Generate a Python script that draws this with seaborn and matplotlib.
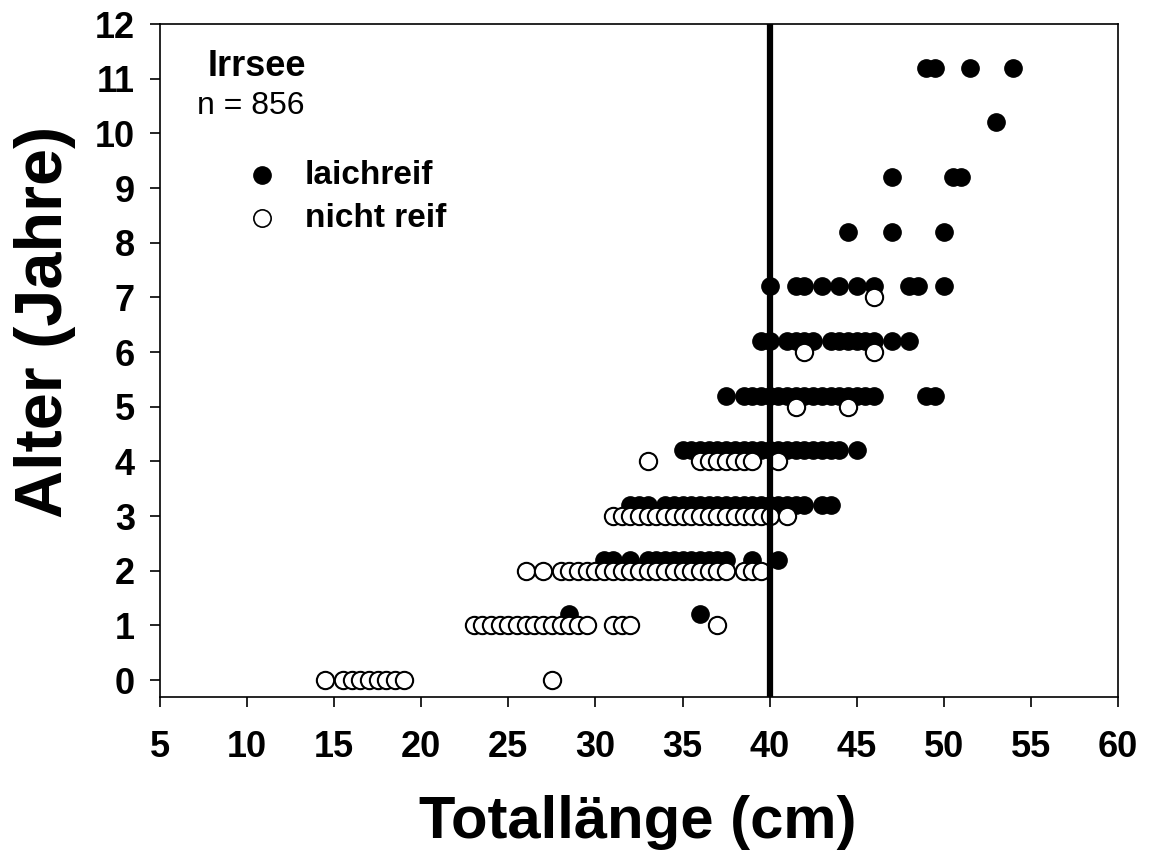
import numpy as np
import pandas as pd
import matplotlib
matplotlib.use("Agg")
import matplotlib.pyplot as plt
import seaborn as sns

# --- data ---
# immature (nicht reif): length (cm) per age
imm_len = {
    0: [14.5, 15.5, 16.0, 16.5, 17.0, 17.5, 18.0, 18.5, 19.0, 27.5],
    1: [23.0, 23.5, 24.0, 24.5, 25.0, 25.5, 26.0, 26.5, 27.0, 27.5, 28.0, 28.5,
        29.0, 29.5, 31.0, 31.5, 32.0, 37.0],
    2: [26.0, 27.0, 28.0, 28.5, 29.0, 29.5, 30.0, 30.5, 31.0, 31.5, 32.0, 32.5,
        33.0, 33.5, 34.0, 34.5, 35.0, 35.5, 36.0, 36.5, 37.0, 37.5, 38.5, 39.0, 39.5],
    3: [31.0, 31.5, 32.0, 32.5, 33.0, 33.5, 34.0, 34.5, 35.0, 35.5, 36.0, 36.5,
        37.0, 37.5, 38.0, 38.5, 39.0, 39.5, 40.0, 41.0],
    4: [33.0, 36.0, 36.5, 37.0, 37.5, 38.0, 38.5, 39.0, 40.5],
    5: [41.5, 44.5],
    6: [42.0, 46.0],
    7: [46.0],
}
# mature (laichreif): length (cm) per age
mat_len = {
    1: [28.5, 36.0],
    2: [30.5, 31.0, 32.0, 33.0, 33.5, 34.0, 34.5, 35.0, 35.5, 36.0, 36.5, 37.0,
        37.5, 39.0, 40.5],
    3: [32.0, 32.5, 33.0, 34.0, 34.5, 35.0, 35.5, 36.0, 36.5, 37.0, 37.5, 38.0,
        38.5, 39.0, 39.5, 40.0, 40.5, 41.0, 41.5, 42.0, 43.0, 43.5],
    4: [35.0, 35.5, 36.0, 36.5, 37.0, 37.5, 38.0, 38.5, 39.0, 39.5, 40.0, 40.5,
        41.0, 41.5, 42.0, 42.5, 43.0, 43.5, 44.0, 45.0],
    5: [37.5, 38.5, 39.0, 39.5, 40.0, 40.5, 41.0, 41.5, 42.0, 42.5, 43.0, 43.5,
        44.0, 44.5, 45.0, 45.5, 46.0, 49.0, 49.5],
    6: [39.5, 40.0, 41.0, 41.5, 42.0, 42.5, 43.5, 44.0, 44.5, 45.0, 45.5, 46.0,
        47.0, 48.0],
    7: [40.0, 41.5, 42.0, 43.0, 44.0, 45.0, 46.0, 48.0, 48.5, 50.0],
    8: [44.5, 47.0, 50.0],
    9: [47.0, 50.5, 51.0],
    10: [53.0],
    11: [49.0, 49.5, 51.5, 54.0],
}
mature_offset = 0.2
threshold = 40
x_ticks = list(range(5, 61, 5))
y_ticks = list(range(0, 13))

rows = []
for age, lens in imm_len.items():
    for l in lens:
        rows.append({"len": l, "age": age, "status": "nicht reif"})
for age, lens in mat_len.items():
    for l in lens:
        rows.append({"len": l, "age": age + mature_offset, "status": "laichreif"})
df = pd.DataFrame(rows)

sns.set_theme(style="white")
plt.rcParams['font.family'] = ['Liberation Sans', 'DejaVu Sans']
plt.rcParams['text.color'] = 'black'
plt.rcParams['axes.labelcolor'] = 'black'
plt.rcParams['xtick.color'] = 'black'
plt.rcParams['ytick.color'] = 'black'

W, H = 1149, 850
fig = plt.figure(figsize=(W / 100, H / 100), dpi=100)
ax = fig.add_axes([160 / W, 1 - 697 / H, (1118 - 160) / W, (697 - 24) / H])

MS = 155
sns.scatterplot(data=df[df.status == "nicht reif"], x="len", y="age", ax=ax,
                color="white", edgecolor="black", linewidth=1.5, s=MS, zorder=3,
                legend=False)
sns.scatterplot(data=df[df.status == "laichreif"], x="len", y="age", ax=ax,
                color="black", edgecolor="black", linewidth=1.0, s=MS, zorder=2,
                legend=False)
ax.axvline(threshold, color="black", lw=4.5, zorder=4)

ax.set_xlim(5, 60)
ax.set_ylim(-0.31, 12)
ax.set_xticks(x_ticks)
ax.set_yticks(y_ticks)
for sp in ax.spines.values():
    sp.set_color("black")
    sp.set_linewidth(1.2)
ax.tick_params(axis="both", direction="out", length=7, width=1.2, color="black",
               labelsize=26, bottom=True, left=True)
ax.tick_params(axis="x", pad=17)
ax.tick_params(axis="y", pad=11)
for lab in ax.get_xticklabels() + ax.get_yticklabels():
    lab.set_fontweight("bold")
ax.set_xlabel("")
ax.set_ylabel("")


def fx(px):
    return px / W


def fy(py):
    return 1 - py / H


fig.text(fx(638), fy(838), "Totallänge (cm)", fontsize=43, fontweight="bold",
         ha="center", va="baseline")
fig.text(fx(45), fy(322), "Alter (Jahre)", fontsize=48, fontweight="bold",
         ha="center", va="center", rotation=90)

# annotations
fig.text(fx(257), fy(66), "Irrsee", fontsize=26, fontweight="bold",
         ha="center", va="center")
fig.text(fx(251), fy(106), "n = 856", fontsize=23, ha="center", va="center")
fig.text(fx(305), fy(176), "laichreif", fontsize=24, fontweight="bold",
         ha="left", va="center")
fig.text(fx(305), fy(219), "nicht reif", fontsize=24, fontweight="bold",
         ha="left", va="center")
leg_ax = fig.add_axes([0, 0, 1, 1], facecolor="none")
leg_ax.set_xlim(0, W)
leg_ax.set_ylim(H, 0)
leg_ax.axis("off")
leg_ax.scatter([262], [175], s=MS, color="black", edgecolor="black")
leg_ax.scatter([262], [218], s=MS, color="white", edgecolor="black", linewidth=1.2)

fig.savefig("out.png", dpi=100)
